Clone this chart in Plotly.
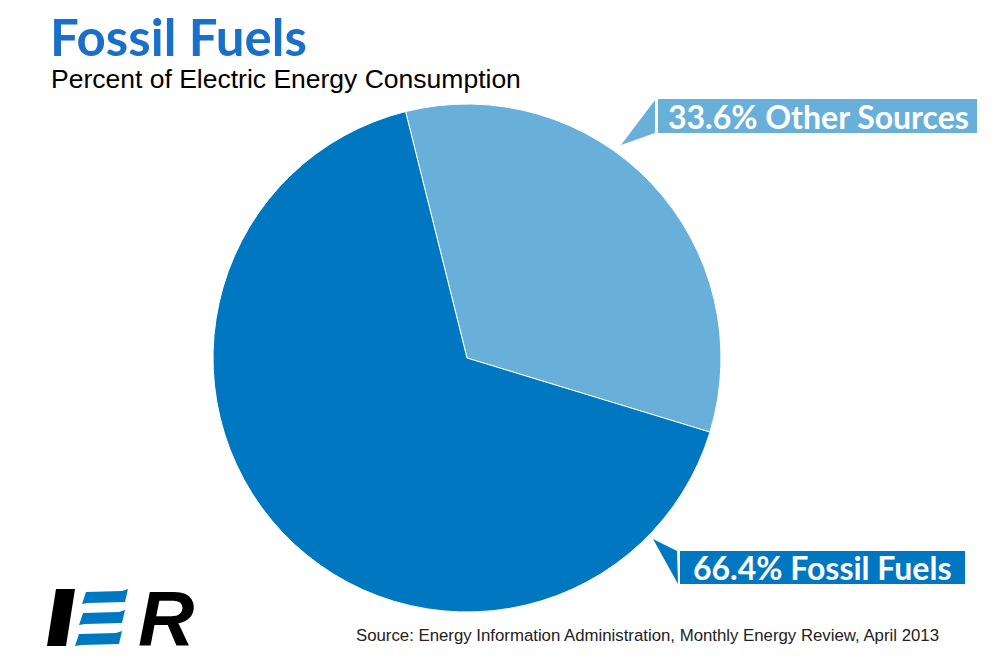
import plotly.graph_objects as go

W, H = 1000, 667
labels = ["Other Sources", "Fossil Fuels"]
values = [33.6, 66.4]
colors = ["#68b0da", "#0078c1"]
label_texts = ["33.6% Other Sources", "66.4% Fossil Fuels"]

def px(x):
    return x / W

def py(y):
    return 1 - y / H

def path(points):
    return "M " + " L ".join(f"{px(x)},{py(y)}" for x, y in points) + " Z"

cx, cy, r = 467, 358, 254

fig = go.Figure(go.Pie(
    labels=labels, values=values, sort=False, direction="clockwise",
    rotation=-14, textinfo="none", hoverinfo="label+percent",
    marker=dict(colors=colors, line=dict(color="white", width=1)),
    domain=dict(x=[px(cx - r), px(cx + r)], y=[py(cy + r), py(cy - r)]),
    showlegend=False,
))

shapes = []
# callout boxes
shapes.append(dict(type="rect", xref="paper", yref="paper", x0=px(658), x1=px(977), y0=py(133), y1=py(99),
                   fillcolor=colors[0], line=dict(width=0)))
shapes.append(dict(type="path", xref="paper", yref="paper", path=path([(655, 100), (655, 133), (621, 145)]),
                   fillcolor=colors[0], line=dict(width=0)))
shapes.append(dict(type="rect", xref="paper", yref="paper", x0=px(680), x1=px(965), y0=py(584), y1=py(551),
                   fillcolor=colors[1], line=dict(width=0)))
shapes.append(dict(type="path", xref="paper", yref="paper", path=path([(653, 539), (677, 551), (678, 584)]),
                   fillcolor=colors[1], line=dict(width=0)))
# logo: I
shapes.append(dict(type="path", xref="paper", yref="paper", path=path([(56, 589), (75, 589), (66, 646), (47, 646)]),
                   fillcolor="black", line=dict(width=0)))
# logo: E stripes
for (y0, xl, xr) in [(590, 84, 128), (611, 81, 125), (632, 77, 122)]:
    shapes.append(dict(type="path", xref="paper", yref="paper",
                       path=path([(xl + 2, y0 + 2), (xr - 6, y0 + 1), (xr, y0 - 1), (xr - 3, y0 + 12),
                                  (xl + 4, y0 + 13), (xl - 2, y0 + 14)]),
                       fillcolor="#0078c1", line=dict(width=0)))

annotations = [
    dict(text="<b>Fossil Fuels</b>", x=px(48), y=py(37), xref="paper", yref="paper", xanchor="left", yanchor="middle",
         showarrow=False, font=dict(family="Lato", size=51, color="#1a6fc9")),
    dict(text="Percent of Electric Energy Consumption", x=px(49), y=py(79), xref="paper", yref="paper",
         xanchor="left", yanchor="middle", showarrow=False, font=dict(family="Liberation Sans", size=26.5, color="black")),
    dict(text="<b>" + label_texts[0] + "</b>", x=px(818), y=py(116), xref="paper", yref="paper", xanchor="center",
         yanchor="middle", showarrow=False, font=dict(family="Lato", size=32, color="white")),
    dict(text="<b>" + label_texts[1] + "</b>", x=px(822), y=py(567), xref="paper", yref="paper", xanchor="center",
         yanchor="middle", showarrow=False, font=dict(family="Lato", size=32, color="white")),
    dict(text="Source: Energy Information Administration, Monthly Energy Review, April 2013", x=px(941), y=py(635),
         xref="paper", yref="paper", xanchor="right", yanchor="middle", showarrow=False,
         font=dict(family="Liberation Sans", size=16.8, color="#222222")),
    dict(text="<b><i>R</i></b>", x=px(166), y=py(618), xref="paper", yref="paper", xanchor="center", yanchor="middle",
         showarrow=False, font=dict(family="Liberation Sans", size=78, color="black")),
]

fig.update_layout(
    width=W, height=H, margin=dict(l=0, r=0, t=0, b=0),
    paper_bgcolor="white", plot_bgcolor="white",
    shapes=shapes, annotations=annotations,
)
fig.write_html("out.html")
